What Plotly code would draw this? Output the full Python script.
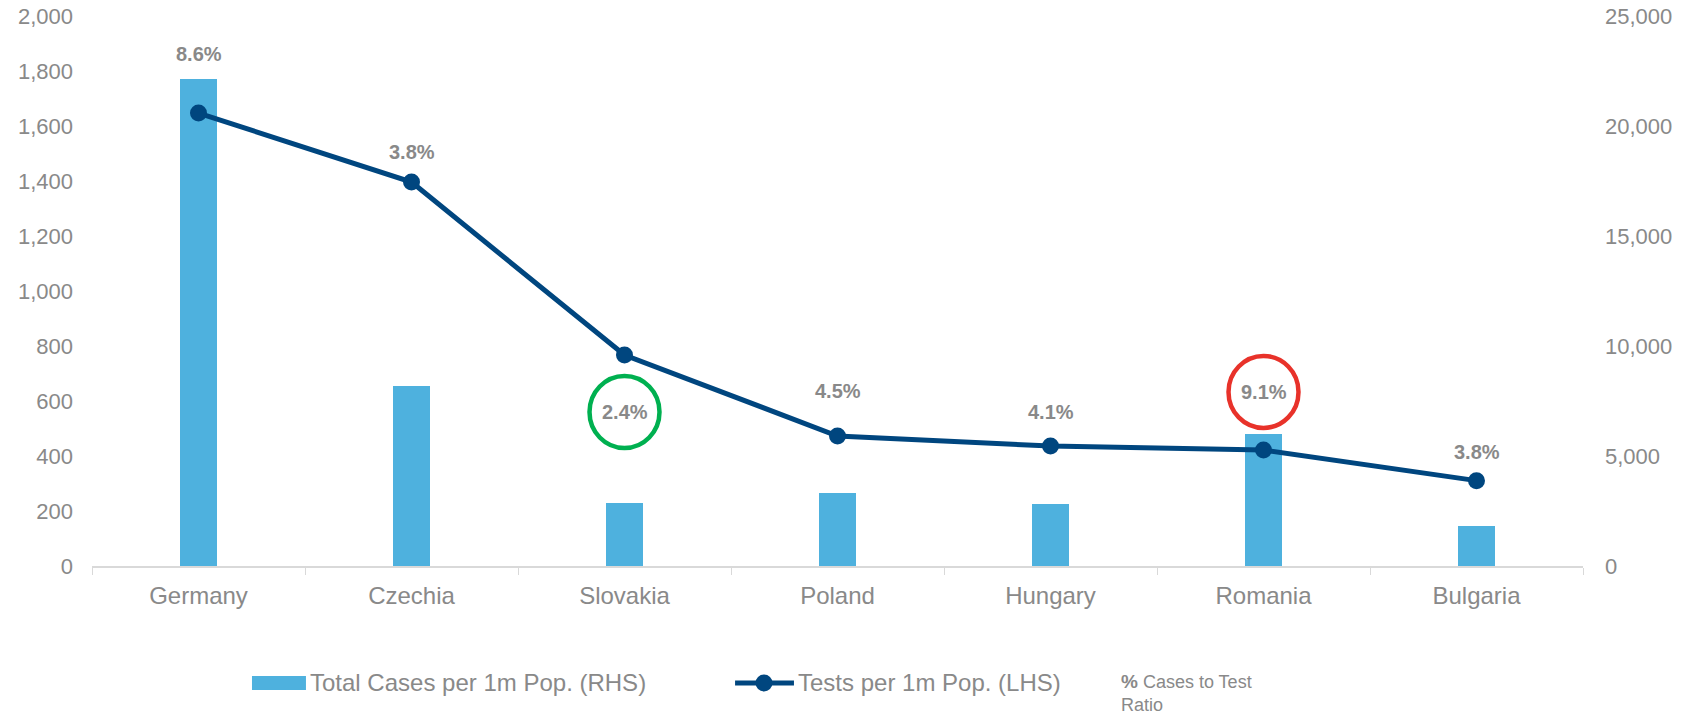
import plotly.graph_objects as go

countries = ["Germany", "Czechia", "Slovakia", "Poland", "Hungary", "Romania", "Bulgaria"]
cases_per_1m = [1771, 655, 228, 264, 224, 479, 145]          # bars, left axis
tests_per_1m = [20590, 17450, 9590, 5910, 5450, 5270, 3880]  # line, right axis
ratio_labels = ["8.6%", "3.8%", "2.4%", "4.5%", "4.1%", "9.1%", "3.8%"]
label_pos = [1862, 1505, 560, 636, 560, 633, 415]            # label heights (left-axis units)
circled = {2: "#00B050", 5: "#E8322A"}
bar_name = "Total Cases per 1m Pop. (RHS)"
line_name = "Tests per 1m Pop. (LHS)"

GRAY = "#898989"
BAR_C = "#4EB1DE"
LINE_C = "#00467F"
FONT = "Arial, Liberation Sans, sans-serif"

fig = go.Figure()
fig.add_trace(go.Bar(
    x=countries, y=cases_per_1m, name=bar_name, showlegend=False,
    marker=dict(color=BAR_C, line=dict(width=0)), width=0.17, yaxis="y",
))
fig.add_trace(go.Scatter(
    x=countries, y=tests_per_1m, name=line_name, mode="lines+markers", showlegend=False,
    line=dict(color=LINE_C, width=5), marker=dict(color=LINE_C, size=17),
    yaxis="y2",
))

annotations = []
shapes = []
for i, (c, t, yv) in enumerate(zip(countries, ratio_labels, label_pos)):
    annotations.append(dict(x=c, y=yv, xref="x", yref="y", text=f"<b>{t}</b>", showarrow=False,
                            font=dict(family=FONT, size=20, color=GRAY)))
    if i in circled:
        shapes.append(dict(type="circle", xref="x", yref="y", xsizemode="pixel", ysizemode="pixel",
                           xanchor=c, yanchor=yv, x0=-35, x1=35, y0=-36, y1=36,
                           line=dict(color=circled[i], width=4.5)))

# ---- legend (drawn in paper coordinates below the plot) ----
LEG_Y = -0.2127
shapes.append(dict(type="rect", xref="paper", yref="paper", x0=0.1073, x1=0.1435,
                   y0=-0.200, y1=-0.2255, fillcolor=BAR_C, line=dict(width=0)))
annotations.append(dict(x=0.1449, y=LEG_Y, xref="paper", yref="paper", xanchor="left",
                        yanchor="middle", showarrow=False, text=bar_name,
                        font=dict(family=FONT, size=24, color=GRAY)))
shapes.append(dict(type="line", xref="paper", yref="paper", x0=0.4313, x1=0.4708,
                   y0=LEG_Y, y1=LEG_Y, line=dict(color=LINE_C, width=5)))
shapes.append(dict(type="circle", xref="paper", yref="paper", xsizemode="pixel",
                   ysizemode="pixel", xanchor=0.4507, yanchor=LEG_Y, x0=-8.5, x1=8.5,
                   y0=-8.5, y1=8.5, fillcolor=LINE_C, line=dict(width=0)))
annotations.append(dict(x=0.4722, y=LEG_Y, xref="paper", yref="paper", xanchor="left",
                        yanchor="middle", showarrow=False, text=line_name,
                        font=dict(family=FONT, size=24, color=GRAY)))
annotations.append(dict(x=0.6885, y=-0.2318, xref="paper", yref="paper", xanchor="left",
                        yanchor="middle", align="left", showarrow=False,
                        text="<b><span style='font-size:19px'>%</span></b> Cases to Test<br>Ratio",
                        font=dict(family=FONT, size=18, color=GRAY)))

fig.update_layout(
    width=1694, height=714,
    margin=dict(l=92, r=111, t=16, b=148),
    plot_bgcolor="white", paper_bgcolor="white",
    font=dict(family=FONT, color=GRAY),
    showlegend=False,
    xaxis=dict(showgrid=False, showline=True, linecolor="#D9D9D9", linewidth=1.5,
               ticks="outside", tickson="boundaries", ticklen=7, tickcolor="#D9D9D9",
               tickfont=dict(size=24, color=GRAY), ticklabelstandoff=7, automargin=False),
    yaxis=dict(range=[0, 2000], dtick=200, showgrid=False, zeroline=False, tickformat=",",
               tickfont=dict(size=22, color=GRAY), ticklabelstandoff=18,
               ticklabeloverflow="allow", automargin=False),
    yaxis2=dict(range=[0, 25000], dtick=5000, overlaying="y", side="right", showgrid=False,
                zeroline=False, tickformat=",", tickfont=dict(size=22, color=GRAY),
                ticklabelstandoff=21, ticklabeloverflow="allow", automargin=False),
    annotations=annotations, shapes=shapes, bargap=0,
)

fig.write_html("out.html", config={"displayModeBar": False},
               post_script="document.body.style.margin='0';document.body.style.overflow='hidden';")
